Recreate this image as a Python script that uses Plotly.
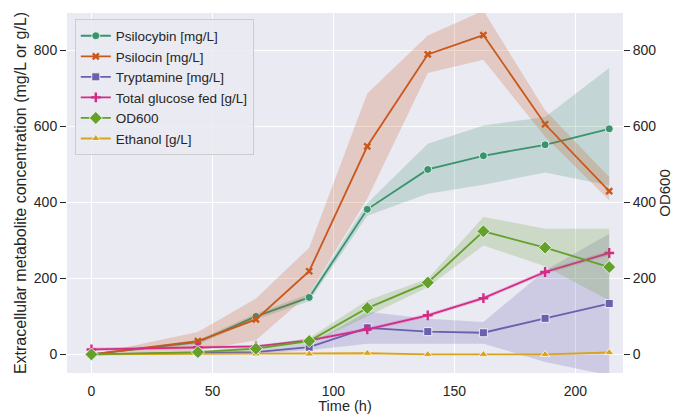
import plotly.graph_objects as go

time_h = [0, 44, 68, 90, 114, 139, 162, 187.5, 214]

psilocybin = [0, 32, 100, 150, 382, 487, 523, 552, 594]
psilocybin_lo = [0, 26, 92, 140, 365, 423, 447, 479, 445]
psilocybin_hi = [0, 38, 108, 160, 398, 555, 603, 625, 754]

psilocin = [0, 35, 92, 219, 548, 790, 841, 606, 430]
psilocin_lo = [0, 10, 37, 160, 410, 741, 776, 573, 406]
psilocin_hi = [0, 59, 147, 281, 687, 840, 905, 643, 467]

tryptamine = [0, 4, 6, 19, 70, 60, 57, 95, 134]
tryptamine_lo = [0, 1, 2, 11, 28, 28, 28, -20, -55]
tryptamine_hi = [0, 7, 10, 27, 112, 94, 85, 221, 318]

glucose = [13, 19, 21, 37, 66, 103, 148, 217, 267]
glucose_lo = [8, 15, 17, 33, 61, 98, 143, 212, 261]
glucose_hi = [18, 23, 25, 41, 71, 108, 153, 222, 273]

od600 = [0, 6, 15, 35, 122, 189, 324, 281, 230]
od600_lo = [0, 3, 10, 27, 100, 177, 287, 232, 142]
od600_hi = [0, 9, 20, 43, 142, 199, 362, 331, 331]

ethanol = [0, 1, 1, 1, 3, 0, 0, 0, 5]
ethanol_lo = [0, 0, 0, 0, 1, -1, -1, -1, 3]
ethanol_hi = [0, 2, 2, 2, 5, 1, 1, 1, 7]

series_names = ["Psilocybin [mg/L]", "Psilocin [mg/L]", "Tryptamine [mg/L]",
                "Total glucose fed [g/L]", "OD600", "Ethanol [g/L]"]
x_ticks = [0, 50, 100, 150, 200]
y_ticks = [0, 200, 400, 600, 800]

colors = ["#3a936c", "#c9581b", "#6a60ad", "#d42a88", "#63a12a", "#d9a31c"]
fills = ["rgba(58,147,108,0.22)", "rgba(201,88,27,0.22)", "rgba(106,96,173,0.22)",
         "rgba(212,42,136,0.22)", "rgba(99,161,42,0.22)", "rgba(217,163,28,0.22)"]

series = [
    (psilocybin, psilocybin_lo, psilocybin_hi, dict(symbol="circle", size=8, line=dict(color="white", width=0.8)), "y"),
    (psilocin, psilocin_lo, psilocin_hi, dict(symbol="x-thin", size=6, line=dict(color=colors[1], width=2.4)), "y"),
    (tryptamine, tryptamine_lo, tryptamine_hi, dict(symbol="square", size=8, line=dict(color="white", width=0.8)), "y"),
    (glucose, glucose_lo, glucose_hi, dict(symbol="cross-thin", size=7, line=dict(color=colors[3], width=2.4)), "y"),
    (od600, od600_lo, od600_hi, dict(symbol="diamond", size=10, line=dict(color="white", width=0.8)), "y2"),
    (ethanol, ethanol_lo, ethanol_hi, dict(symbol="triangle-up", size=8, line=dict(color="white", width=0.8)), "y"),
]

fig = go.Figure()
for i, (vals, lo, hi, mk, ax) in enumerate(series):
    fig.add_trace(go.Scatter(
        x=time_h + time_h[::-1], y=hi + lo[::-1], fill="toself", yaxis=ax,
        fillcolor=fills[i], line=dict(width=0), mode="lines",
        showlegend=False, hoverinfo="skip"))
    mk = dict(mk)
    mk["color"] = colors[i]
    fig.add_trace(go.Scatter(
        x=time_h, y=vals, mode="lines+markers", name=series_names[i], yaxis=ax,
        line=dict(color=colors[i], width=1.8), marker=mk))

font_family = "Liberation Sans, Arial, sans-serif"
yrange = [-49, 899]

fig.update_layout(
    width=675, height=414,
    margin=dict(l=67, r=52, t=13, b=41),
    paper_bgcolor="white", plot_bgcolor="#EAEAF2",
    font=dict(family=font_family, size=14, color="#262626"),
    showlegend=True,
    legend=dict(x=0.014, y=0.982, xanchor="left", yanchor="top",
                bgcolor="rgba(234,234,242,0.85)", bordercolor="#cccccc", borderwidth=1,
                font=dict(size=13.5, color="#262626"), tracegroupgap=0),
    xaxis=dict(range=[-10.1, 219.7], tickvals=x_ticks, showgrid=True, gridcolor="white",
               gridwidth=1.3, zeroline=False, showline=False, automargin=False,
               ticks="outside", ticklen=5, tickcolor="rgba(0,0,0,0)",
               title=dict(text="Time (h)", font=dict(size=14.5), standoff=2),
               tickfont=dict(size=14)),
    yaxis=dict(range=yrange, tickvals=y_ticks, showgrid=True, gridcolor="white",
               gridwidth=1.3, zeroline=False, showline=False, automargin=False,
               ticks="outside", ticklen=6, tickcolor="#262626", tickwidth=1,
               title=dict(text="Extracellular metabolite concentration (mg/L or g/L)",
                          font=dict(size=16), standoff=3),
               tickfont=dict(size=14)),
    yaxis2=dict(range=yrange, tickvals=y_ticks, overlaying="y", side="right",
                showgrid=False, zeroline=False, showline=False, automargin=False,
                ticks="outside", ticklen=6, tickcolor="#262626", tickwidth=1,
                title=dict(text="OD600", font=dict(size=15), standoff=4),
                tickfont=dict(size=14)),
)

fig.write_html("out.html", config={"displayModeBar": False},
               post_script="document.body.style.margin='0';")
